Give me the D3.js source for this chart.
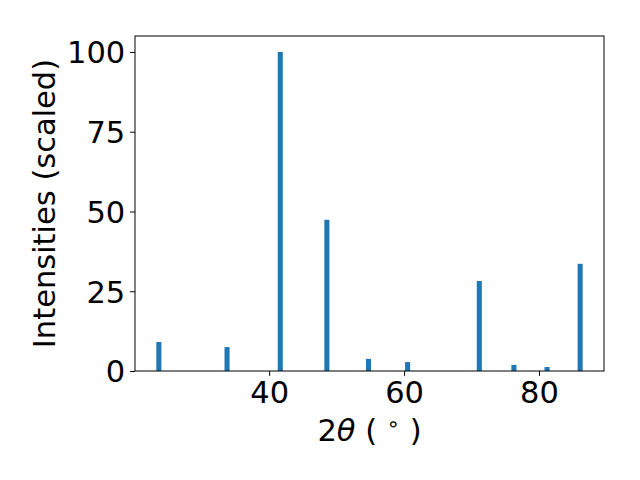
<!DOCTYPE html>
<html>
<head>
<meta charset="utf-8">
<script src="https://cdn.jsdelivr.net/npm/d3@7"></script>
<style>
  html, body { margin: 0; padding: 0; background: #fff; }
  text { font-family: "DejaVu Sans", sans-serif; fill: #000; }
</style>
</head>
<body>
<svg id="chart" width="640" height="480"></svg>
<script>
// Data
const twoTheta = [23.64, 33.75, 41.64, 48.55, 54.72, 60.52, 71.15, 76.28, 81.19, 86.10];
const intensities = [9.1, 7.5, 100, 47.4, 3.8, 2.8, 28.2, 1.9, 1.25, 33.6];
const xTicks = [40, 60, 80];
const yTicks = [0, 25, 50, 75, 100];
const barWidth = 0.75;
const xLabelMain = "2";
const yLabelText = "Intensities (scaled)";

const margin = { left: 135, right: 604, top: 36, bottom: 371 };
const svg = d3.select("#chart");

const xMin = d3.min(twoTheta) - barWidth / 2;
const xMax = d3.max(twoTheta) + barWidth / 2;
const xPad = (xMax - xMin) * 0.05;
const x = d3.scaleLinear().domain([xMin - xPad, xMax + xPad]).range([margin.left, margin.right]);
const y = d3.scaleLinear().domain([0, d3.max(intensities) * 1.05]).range([margin.bottom, margin.top]);

// Bars
svg.append("g").selectAll("rect")
  .data(twoTheta.map((t, i) => ({ t, v: intensities[i] })))
  .join("rect")
  .attr("x", d => x(d.t - barWidth / 2))
  .attr("width", d => x(d.t + barWidth / 2) - x(d.t - barWidth / 2))
  .attr("y", d => y(d.v))
  .attr("height", d => y(0) - y(d.v))
  .attr("fill", "#1f77b4");

// Axes
const xAxis = d3.axisBottom(x).tickValues(xTicks).tickSize(4.9).tickPadding(4.9).tickFormat(d3.format("d"));
const yAxis = d3.axisLeft(y).tickValues(yTicks).tickSize(4.9).tickPadding(4.9).tickFormat(d3.format("d"));

const gx = svg.append("g").attr("transform", `translate(0,${margin.bottom})`).call(xAxis);
const gy = svg.append("g").attr("transform", `translate(${margin.left},0)`).call(yAxis);
[gx, gy].forEach(g => {
  g.select(".domain").remove();
  g.selectAll(".tick line").attr("stroke", "#000").attr("stroke-width", 1);
  g.selectAll(".tick text").attr("font-size", 30.5).attr("font-family", "DejaVu Sans").attr("fill", "#000");
});
gx.selectAll(".tick text").attr("dy", null).attr("y", 31.5);
gy.selectAll(".tick text").attr("dy", "0.36em");

// Frame (spines)
svg.append("rect")
  .attr("x", margin.left).attr("y", margin.top)
  .attr("width", margin.right - margin.left).attr("height", margin.bottom - margin.top)
  .attr("fill", "none").attr("stroke", "#000").attr("stroke-width", 1);

// X label: 2θ (°)
const xl = svg.append("text")
  .attr("x", (margin.left + margin.right) / 2)
  .attr("y", 441)
  .attr("text-anchor", "middle")
  .attr("font-size", 30.5);
xl.append("tspan").text(xLabelMain);
xl.append("tspan").attr("font-style", "italic").text("θ");
xl.append("tspan").text(" ( ");
xl.append("tspan").attr("font-size", 21).attr("dy", -10).text("∘");
xl.append("tspan").attr("dy", 10).text(" )");

// Y label
svg.append("text")
  .attr("transform", `translate(55,${(margin.top + margin.bottom) / 2}) rotate(-90)`)
  .attr("text-anchor", "middle")
  .attr("font-size", 30.5)
  .text(yLabelText);
</script>
</body>
</html>
